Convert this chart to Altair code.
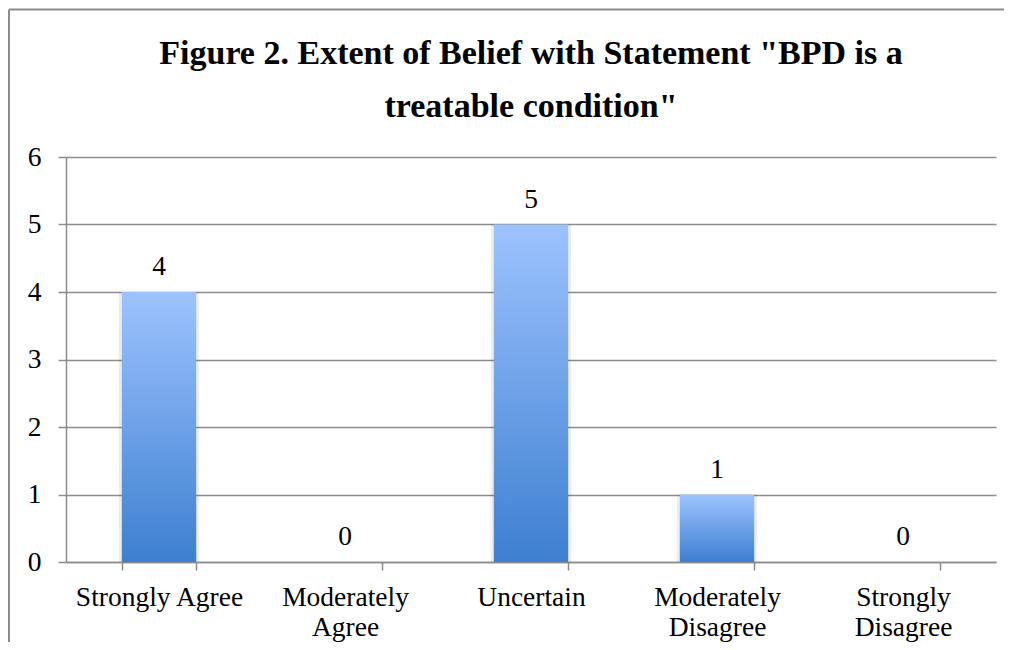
import altair as alt
import pandas as pd

categories = ["Strongly Agree", "Moderately Agree", "Uncertain",
              "Moderately Disagree", "Strongly Disagree"]
counts = [4, 0, 5, 1, 0]
y_ticks = [0, 1, 2, 3, 4, 5, 6]
title_lines = ['Figure 2. Extent of Belief with Statement "BPD is a',
               'treatable condition"']

df = pd.DataFrame({"category": categories, "count": counts})

FONT = "Liberation Serif"
GRAY = "#8c8c8c"
FS = 27.5

label_expr = ("(datum.label == 'Strongly Agree' || datum.label == 'Uncertain') "
              "? datum.label : split(datum.label, ' ')")

x = alt.X("category:N", sort=categories, title=None,
          scale=alt.Scale(paddingInner=0.6, paddingOuter=0.3),
          axis=alt.Axis(labelAngle=0, tickBand="extent", tickSize=8,
                        labelPadding=13, labelFontSize=FS, labelFont=FONT,
                        labelColor="#000", labelLineHeight=30,
                        domainColor=GRAY, domainWidth=1.5, tickColor=GRAY,
                        tickWidth=1.5, grid=False, labelExpr=label_expr))
y = alt.Y("count:Q", title=None,
          scale=alt.Scale(domain=[0, 6], nice=False),
          axis=alt.Axis(values=y_ticks, tickSize=8, labelPadding=17,
                        labelFontSize=FS, labelFont=FONT, labelColor="#000",
                        domainColor=GRAY, domainWidth=1.5, tickColor=GRAY,
                        tickWidth=1.5, grid=True, gridColor=GRAY,
                        gridWidth=1.5, gridOpacity=1))

gradient = alt.Gradient(
    gradient="linear",
    stops=[alt.GradientStop(color="#9dc3ff", offset=0),
           alt.GradientStop(color="#3d7fd0", offset=1)],
    x1=0, x2=0, y1=0, y2=1)

shadow = alt.Chart(df).mark_bar(color="#000", opacity=0.07,
                                width={"band": 1.08}).encode(x=x, y=y)
bars = alt.Chart(df).mark_bar(color=gradient).encode(x=x, y=y)
labels = alt.Chart(df).mark_text(dy=-17, baseline="alphabetic", fontSize=FS,
                                 font=FONT, color="#000").encode(
    x=x, y=y, text="count:Q")

title = alt.Chart(alt.Data(values=[{}])).mark_text(
    text=title_lines, font=FONT, fontSize=34, fontWeight="bold",
    color="#000", lineHeight=53, align="center", baseline="alphabetic").encode(
    x=alt.value(465), y=alt.value(-93))

left_border = alt.Chart(alt.Data(values=[{}])).mark_rule(
    color=GRAY, strokeWidth=2).encode(
    x=alt.value(-57), y=alt.value(-147.5), y2=alt.value(600))
top_border = alt.Chart(alt.Data(values=[{}])).mark_rule(
    color=GRAY, strokeWidth=2).encode(
    x=alt.value(-57), x2=alt.value(1000), y=alt.value(-147.5))

chart = alt.layer(shadow, bars, labels, title, left_border, top_border).properties(
    width=930, height=405,
    padding={"left": 58, "top": 149, "right": 8, "bottom": 80},
    autosize="none",
).configure_view(stroke=None)

chart.save("out.html", embed_options={"renderer": "svg", "actions": False})
